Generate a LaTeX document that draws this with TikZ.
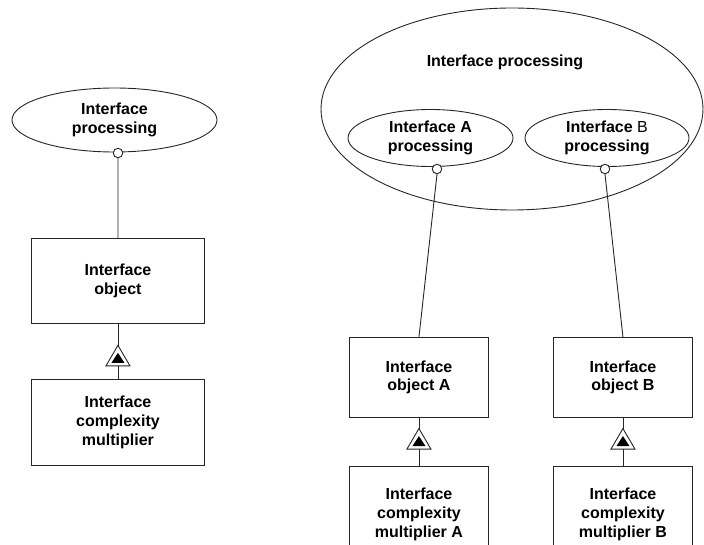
\documentclass[tikz,border=0pt]{standalone}
\usepackage{fontspec}
\setmainfont{Liberation Sans}
\usetikzlibrary{shapes.geometric}
\begin{document}
\begin{tikzpicture}[x=1bp,y=-1bp,
  every node/.style={font=\fontsize{16bp}{18.7bp}\selectfont\bfseries, align=center, inner sep=0pt},
  line/.style={draw=black!85, line width=0.9bp},
  usecase/.style={ellipse, line, fill=none},
  classbox/.style={rectangle, line, anchor=north west},
  port/.style={circle, line, fill=white, minimum size=9.5bp},
  genmark/.pic={
    \draw[black!85, line width=0.9bp, fill=white] (-12,10) -- (0,-10.5) -- (12,10) -- cycle;
    \fill[black] (-6.5,7) -- (0,-3) -- (6.5,7) -- cycle;
  }]
\useasboundingbox (0,0) rectangle (704,545);

% ---- left column ----
\node[usecase, minimum width=205bp, minimum height=64bp] (ipL) at (114.5,120) {Interface\\processing};
\node[port] (pL) at (118,153) {};
\node[classbox, minimum width=173bp, minimum height=85bp] (objL) at (31,238) {};
\node at (objL.center) {Interface\\object};
\node[classbox, minimum width=173bp, minimum height=86bp] (cmL) at (31,379) {};
\node at (cmL.center) {Interface\\complexity\\multiplier};
\draw[line] (pL.south) -- (objL.north);
\draw[line] (cmL.north) -- (objL.south) coordinate[pos=0.42] (gL);
\pic at (gL) {genmark};

% ---- right group ----
\node[usecase, minimum width=382bp, minimum height=202bp] (outer) at (512,109) {};
\node (outerlabel) at (505,62) {Interface processing};
\node[usecase, minimum width=165bp, minimum height=57bp] (ipA) at (430.5,138) {Interface A\\processing};
\node[usecase, minimum width=164bp, minimum height=57bp] (ipB) at (607,138) {Interface {\mdseries B}\\processing};
\node[port] (pA) at (437,169) {};
\node[port] (pB) at (605,169) {};

\node[classbox, minimum width=139bp, minimum height=80bp] (objA) at (349,337) {};
\node at (objA.center) {Interface\\object A};
\node[classbox, minimum width=139bp, minimum height=80bp] (objB) at (553,337) {};
\node at (objB.center) {Interface\\object B};

\node[classbox, minimum width=139bp, minimum height=96bp] (cmA) at (349,466) {};
\node at (cmA.center) {Interface\\complexity\\multiplier A};
\node[classbox, minimum width=139bp, minimum height=96bp] (cmB) at (553,466) {};
\node at (cmB.center) {Interface\\complexity\\multiplier B};

\draw[line] (pA.south) -- (objA.north);
\draw[line] (pB.south) -- (objB.north);
\draw[line] (cmA.north) -- (objA.south) coordinate[pos=0.56] (gA);
\draw[line] (cmB.north) -- (objB.south) coordinate[pos=0.56] (gB);
\pic at (gA) {genmark};
\pic at (gB) {genmark};
\end{tikzpicture}
\end{document}
